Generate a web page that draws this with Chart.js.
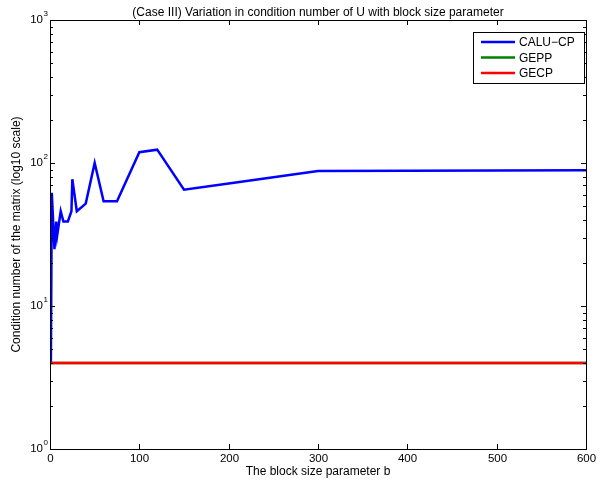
<!DOCTYPE html>
<html>
<head>
<meta charset="utf-8">
<script src="https://cdn.jsdelivr.net/npm/chart.js@4.4.0/dist/chart.umd.min.js"></script>
<style>
  html, body { margin: 0; padding: 0; background: #fff; }
  #wrap { width: 600px; height: 481px; }
</style>
</head>
<body>
<div id="wrap"><canvas id="c" width="600" height="481"></canvas></div>
<script>
// block size b and condition numbers
const blockSizes = [1, 2, 5, 7, 8, 12, 15, 20, 24, 25, 30, 40, 50, 60, 75, 100, 120, 150, 200, 300, 600];
const caluCp     = [4, 62, 25, 39, 31, 46, 39, 39, 46, 77, 46, 52, 100, 54, 54, 119, 124, 65, 72, 88, 89];
const gepp = [4, 4];
const gecp = [4, 4];
const flatX = [1, 600];
const xTicks = [0, 100, 200, 300, 400, 500, 600];
const yPowers = [0, 1, 2, 3];

const FONT = 'Liberation Sans, Arial, sans-serif';
const TITLE = '(Case III) Variation in condition number of U with block size parameter';

function pts(xs, ys) { return xs.map((x, i) => ({ x: x, y: ys[i] })); }

// MATLAB style box, inward ticks, labels and the legend
const matlabAxes = {
  id: 'matlabAxes',
  afterDraw(chart) {
    const ctx = chart.ctx;
    const a = chart.chartArea;
    const xs = chart.scales.x, ys = chart.scales.y;
    ctx.save();
    ctx.strokeStyle = '#000';
    ctx.fillStyle = '#000';
    ctx.lineWidth = 1;
    ctx.strokeRect(a.left + 0.5, a.top + 0.5, a.right - a.left, a.bottom - a.top);

    // x ticks
    ctx.font = '11.5px ' + FONT;
    ctx.textAlign = 'center';
    ctx.textBaseline = 'top';
    xTicks.forEach(v => {
      const px = Math.round(xs.getPixelForValue(v)) + 0.5;
      ctx.beginPath();
      ctx.moveTo(px, a.bottom); ctx.lineTo(px, a.bottom - 5);
      ctx.moveTo(px, a.top); ctx.lineTo(px, a.top + 5);
      ctx.stroke();
      ctx.fillText(String(v), px, a.bottom + 4);
    });

    // y ticks (major + minor)
    yPowers.forEach(p => {
      const base = Math.pow(10, p);
      const py = Math.round(ys.getPixelForValue(base)) + 0.5;
      ctx.beginPath();
      ctx.moveTo(a.left, py); ctx.lineTo(a.left + 5, py);
      ctx.moveTo(a.right, py); ctx.lineTo(a.right - 5, py);
      ctx.stroke();
      ctx.textAlign = 'right';
      ctx.textBaseline = 'middle';
      ctx.font = '11.5px ' + FONT;
      ctx.fillText('10', a.left - 7, py - 1);
      ctx.textAlign = 'left';
      ctx.font = '8px ' + FONT;
      ctx.fillText(String(p), a.left - 6.5, py - 7);
      if (p < 3) {
        for (let m = 2; m <= 9; m++) {
          const my = Math.round(ys.getPixelForValue(base * m)) + 0.5;
          ctx.beginPath();
          ctx.moveTo(a.left, my); ctx.lineTo(a.left + 3, my);
          ctx.moveTo(a.right, my); ctx.lineTo(a.right - 3, my);
          ctx.stroke();
        }
      }
    });

    // legend
    const lx = 473, ly = 32, lw = 111, lh = 51;
    ctx.fillStyle = '#fff';
    ctx.fillRect(lx, ly, lw, lh);
    ctx.strokeStyle = '#000';
    ctx.strokeRect(lx + 0.5, ly + 0.5, lw, lh);
    ctx.font = '12px ' + FONT;
    ctx.textAlign = 'left';
    ctx.textBaseline = 'middle';
    chart.data.datasets.forEach((ds, i) => {
      const yy = ly + 10 + i * 15.5;
      ctx.strokeStyle = ds.borderColor;
      ctx.lineWidth = 2.5;
      ctx.beginPath();
      ctx.moveTo(lx + 8, yy); ctx.lineTo(lx + 42, yy);
      ctx.stroke();
      ctx.fillStyle = '#000';
      ctx.fillText(ds.label, lx + 46, yy + 1);
    });

    // titles
    ctx.font = '12px ' + FONT;
    ctx.textAlign = 'center';
    ctx.textBaseline = 'middle';
    const cx = (a.left + a.right) / 2;
    ctx.fillText(TITLE, cx, 13);
    ctx.fillText('The block size parameter b', cx, 472);
    ctx.translate(17, (a.top + a.bottom) / 2);
    ctx.rotate(-Math.PI / 2);
    ctx.fillText('Condition number of the matrix (log10 scale)', 0, 0);
    ctx.restore();
  }
};

new Chart(document.getElementById('c'), {
  type: 'line',
  data: {
    datasets: [
      { label: 'CALU\u2212CP', data: pts(blockSizes, caluCp), borderColor: '#0000ff', order: 3 },
      { label: 'GEPP', data: pts(flatX, gepp), borderColor: '#008000', order: 2 },
      { label: 'GECP', data: pts(flatX, gecp), borderColor: '#ff0000', order: 1 }
    ]
  },
  options: {
    responsive: false,
    animation: false,
    layout: { padding: { left: 0, right: 14, top: 20, bottom: 0 } },
    elements: {
      line: { borderWidth: 2.5, tension: 0 },
      point: { radius: 0 }
    },
    plugins: {
      legend: { display: false },
      tooltip: { enabled: false },
      title: { display: false }
    },
    scales: {
      x: {
        type: 'linear', min: 0, max: 600,
        grid: { display: false },
        border: { display: false },
        ticks: { display: false },
        afterFit(s) { s.height = 32; }
      },
      y: {
        type: 'logarithmic', min: 1, max: 1000,
        grid: { display: false },
        border: { display: false },
        ticks: { display: false },
        afterFit(s) { s.width = 50; }
      }
    }
  },
  plugins: [matlabAxes]
});
</script>
</body>
</html>
